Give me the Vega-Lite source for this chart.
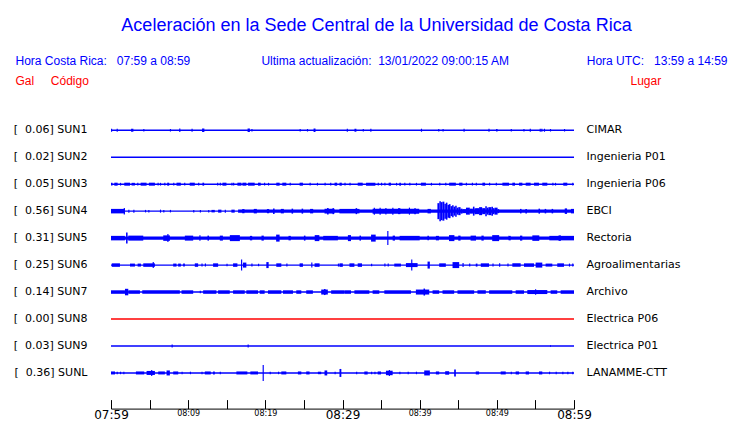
{
 "$schema": "https://vega.github.io/schema/vega-lite/v6.json",
 "width": 463, "height": 314,
 "autosize": "none",
 "padding": {"left": 111, "top": 94.6, "right": 166, "bottom": 14.4},
 "background": "white",
 "title": {"text": "Aceleración en la Sede Central de la Universidad de Costa Rica", "font": "Liberation Sans", "fontSize": 18, "fontWeight": "normal", "color": "#0000ff", "anchor": "middle", "frame": "group", "dx": 34, "offset": 20},
 "config": {"view": {"stroke": null}, "axis": {"grid": false}},
 "datasets": {
  "estaciones": [
   {"s": "SUN1", "t0": 0, "t1": 60, "gal": 0.06, "lugar": "CIMAR", "estado": "activo"},
   {"s": "SUN2", "t0": 0, "t1": 60, "gal": 0.02, "lugar": "Ingenieria P01", "estado": "activo"},
   {"s": "SUN3", "t0": 0, "t1": 60, "gal": 0.05, "lugar": "Ingenieria P06", "estado": "activo"},
   {"s": "SUN4", "t0": 0, "t1": 60, "gal": 0.56, "lugar": "EBCI", "estado": "activo"},
   {"s": "SUN5", "t0": 0, "t1": 60, "gal": 0.31, "lugar": "Rectoria", "estado": "activo"},
   {"s": "SUN6", "t0": 0, "t1": 60, "gal": 0.25, "lugar": "Agroalimentarias", "estado": "activo"},
   {"s": "SUN7", "t0": 0, "t1": 60, "gal": 0.14, "lugar": "Archivo", "estado": "activo"},
   {"s": "SUN8", "t0": 0, "t1": 60, "gal": 0.00, "lugar": "Electrica P06", "estado": "sin datos"},
   {"s": "SUN9", "t0": 0, "t1": 60, "gal": 0.03, "lugar": "Electrica P01", "estado": "activo"},
   {"s": "SUNL", "t0": 0, "t1": 60, "gal": 0.36, "lugar": "LANAMME-CTT", "estado": "activo"}
  ],
  "trazas": [
   {"s":"SUN1","t0":0,"t1":0.15,"a":3},{"s":"SUN1","t0":0.73,"t1":0.88,"a":3},{"s":"SUN1","t0":2.6,"t1":2.9,"a":3},{"s":"SUN1","t0":4.18,"t1":4.33,"a":2.5},{"s":"SUN1","t0":7.63,"t1":7.78,"a":2.5},{"s":"SUN1","t0":8.84,"t1":8.99,"a":3.5},{"s":"SUN1","t0":10.43,"t1":10.58,"a":3},{"s":"SUN1","t0":11.8,"t1":12.1,"a":3.5},{"s":"SUN1","t0":17.7,"t1":18.0,"a":3.5},{"s":"SUN1","t0":18.19,"t1":18.34,"a":2.5},{"s":"SUN1","t0":24.44,"t1":24.59,"a":2.5},{"s":"SUN1","t0":25.39,"t1":25.54,"a":2.5},{"s":"SUN1","t0":26.25,"t1":26.5,"a":3.5},{"s":"SUN1","t0":30.55,"t1":30.7,"a":3},{"s":"SUN1","t0":31.55,"t1":31.8,"a":3},{"s":"SUN1","t0":32.62,"t1":32.77,"a":2.5},{"s":"SUN1","t0":33.6,"t1":33.75,"a":3},{"s":"SUN1","t0":40.16,"t1":40.31,"a":3},{"s":"SUN1","t0":42.4,"t1":42.55,"a":2.5},{"s":"SUN1","t0":42.96,"t1":43.11,"a":2.5},{"s":"SUN1","t0":45.68,"t1":45.83,"a":3},{"s":"SUN1","t0":48.91,"t1":49.06,"a":3},{"s":"SUN1","t0":49.9,"t1":50.1,"a":2.5},{"s":"SUN1","t0":51.8,"t1":51.95,"a":2.5},{"s":"SUN1","t0":53.44,"t1":53.59,"a":2.5},{"s":"SUN1","t0":54.26,"t1":54.41,"a":3},{"s":"SUN1","t0":55.55,"t1":55.7,"a":3},{"s":"SUN1","t0":55.76,"t1":55.91,"a":3},{"s":"SUN1","t0":56.1,"t1":56.25,"a":3},{"s":"SUN1","t0":56.88,"t1":57.03,"a":2.5},{"s":"SUN1","t0":58.7,"t1":58.85,"a":2.5},
   {"s":"SUN3","t0":0,"t1":0.2,"a":2.7},{"s":"SUN3","t0":0.43,"t1":0.86,"a":3},{"s":"SUN3","t0":1.16,"t1":1.31,"a":2.7},{"s":"SUN3","t0":1.72,"t1":2.46,"a":3},{"s":"SUN3","t0":2.67,"t1":3.1,"a":2.7},{"s":"SUN3","t0":3.4,"t1":3.55,"a":2.7},{"s":"SUN3","t0":3.84,"t1":4.61,"a":3},{"s":"SUN3","t0":4.91,"t1":5.69,"a":3},{"s":"SUN3","t0":6.03,"t1":6.18,"a":2.7},{"s":"SUN3","t0":6.34,"t1":6.49,"a":2.7},{"s":"SUN3","t0":6.9,"t1":7.05,"a":2.7},{"s":"SUN3","t0":7.28,"t1":7.54,"a":3},{"s":"SUN3","t0":8.06,"t1":8.21,"a":2.7},{"s":"SUN3","t0":8.49,"t1":9.05,"a":3},{"s":"SUN3","t0":9.48,"t1":9.63,"a":2.7},{"s":"SUN3","t0":10.2,"t1":10.86,"a":3},{"s":"SUN3","t0":11.29,"t1":11.44,"a":2.7},{"s":"SUN3","t0":11.85,"t1":12.07,"a":3},{"s":"SUN3","t0":13.75,"t1":13.9,"a":2.7},{"s":"SUN3","t0":14.09,"t1":14.24,"a":2.7},{"s":"SUN3","t0":14.44,"t1":14.96,"a":3},{"s":"SUN3","t0":15.6,"t1":15.75,"a":2.7},{"s":"SUN3","t0":15.82,"t1":15.97,"a":2.7},{"s":"SUN3","t0":16.38,"t1":16.9,"a":3},{"s":"SUN3","t0":17.03,"t1":17.54,"a":3},{"s":"SUN3","t0":17.76,"t1":18.62,"a":3},{"s":"SUN3","t0":19.05,"t1":19.4,"a":3},{"s":"SUN3","t0":19.83,"t1":19.98,"a":2.7},{"s":"SUN3","t0":20.34,"t1":20.49,"a":2.7},{"s":"SUN3","t0":21.42,"t1":21.85,"a":3},{"s":"SUN3","t0":22.2,"t1":22.72,"a":3},{"s":"SUN3","t0":23.15,"t1":23.3,"a":2.7},{"s":"SUN3","t0":24.44,"t1":24.87,"a":3},{"s":"SUN3","t0":25.73,"t1":25.88,"a":2.7},{"s":"SUN3","t0":26.68,"t1":26.83,"a":2.7},{"s":"SUN3","t0":27.67,"t1":27.82,"a":2.7},{"s":"SUN3","t0":28.4,"t1":28.55,"a":2.7},{"s":"SUN3","t0":28.97,"t1":29.31,"a":3},{"s":"SUN3","t0":29.61,"t1":29.91,"a":3},{"s":"SUN3","t0":30.25,"t1":30.4,"a":2.7},{"s":"SUN3","t0":30.9,"t1":31.05,"a":2.7},{"s":"SUN3","t0":31.97,"t1":32.62,"a":3},{"s":"SUN3","t0":33.05,"t1":34.26,"a":3},{"s":"SUN3","t0":34.56,"t1":34.71,"a":2.7},{"s":"SUN3","t0":34.99,"t1":35.14,"a":2.7},{"s":"SUN3","t0":35.42,"t1":35.57,"a":2.7},{"s":"SUN3","t0":35.98,"t1":36.28,"a":3},{"s":"SUN3","t0":36.93,"t1":37.08,"a":2.7},{"s":"SUN3","t0":37.36,"t1":37.57,"a":3},{"s":"SUN3","t0":38.0,"t1":38.15,"a":2.7},{"s":"SUN3","t0":38.65,"t1":38.8,"a":2.7},{"s":"SUN3","t0":39.51,"t1":39.66,"a":2.7},{"s":"SUN3","t0":40.16,"t1":40.81,"a":3},{"s":"SUN3","t0":41.45,"t1":41.6,"a":2.7},{"s":"SUN3","t0":42.53,"t1":42.68,"a":2.7},{"s":"SUN3","t0":43.31,"t1":43.46,"a":2.7},{"s":"SUN3","t0":43.82,"t1":44.69,"a":3},{"s":"SUN3","t0":45.12,"t1":45.55,"a":3},{"s":"SUN3","t0":45.98,"t1":46.13,"a":2.7},{"s":"SUN3","t0":46.76,"t1":46.91,"a":2.7},{"s":"SUN3","t0":47.27,"t1":47.42,"a":2.7},{"s":"SUN3","t0":48.13,"t1":48.48,"a":3},{"s":"SUN3","t0":48.99,"t1":49.14,"a":2.7},{"s":"SUN3","t0":49.86,"t1":50.01,"a":2.7},{"s":"SUN3","t0":50.72,"t1":51.58,"a":3},{"s":"SUN3","t0":52.01,"t1":52.36,"a":3},{"s":"SUN3","t0":52.88,"t1":53.31,"a":3},{"s":"SUN3","t0":53.74,"t1":54.38,"a":3},{"s":"SUN3","t0":54.82,"t1":55.46,"a":3},{"s":"SUN3","t0":55.89,"t1":56.54,"a":3},{"s":"SUN3","t0":57.19,"t1":57.34,"a":2.7},{"s":"SUN3","t0":57.53,"t1":57.68,"a":2.7},{"s":"SUN3","t0":58.61,"t1":59.13,"a":3},{"s":"SUN3","t0":59.77,"t1":59.92,"a":2.7},
   {"s":"SUN4","t0":0,"t1":1.81,"a":4.5},{"s":"SUN4","t0":1.65,"t1":1.8,"a":6.5},{"s":"SUN4","t0":2.24,"t1":2.39,"a":3},{"s":"SUN4","t0":2.89,"t1":3.04,"a":3},{"s":"SUN4","t0":4.4,"t1":4.55,"a":2.5},{"s":"SUN4","t0":4.83,"t1":4.98,"a":2.5},{"s":"SUN4","t0":6.34,"t1":6.49,"a":3},{"s":"SUN4","t0":6.77,"t1":6.92,"a":2.5},{"s":"SUN4","t0":7.63,"t1":7.78,"a":2.5},{"s":"SUN4","t0":10.65,"t1":10.8,"a":2.5},{"s":"SUN4","t0":11.51,"t1":11.66,"a":2.5},{"s":"SUN4","t0":12.59,"t1":12.74,"a":2.5},{"s":"SUN4","t0":13.02,"t1":13.45,"a":2.5},{"s":"SUN4","t0":13.88,"t1":14.31,"a":3},{"s":"SUN4","t0":14.74,"t1":14.89,"a":3},{"s":"SUN4","t0":15.6,"t1":16.03,"a":3},
   {"s":"SUN4","t0":16.47,"t1":60,"a":3.1},{"s":"SUN4","t0":17.0,"t1":17.3,"a":4.2},{"s":"SUN4","t0":18.5,"t1":18.9,"a":4.5},{"s":"SUN4","t0":20.2,"t1":20.5,"a":4.2},{"s":"SUN4","t0":21.0,"t1":21.2,"a":5.5},{"s":"SUN4","t0":22.0,"t1":22.4,"a":4.5},{"s":"SUN4","t0":23.4,"t1":23.6,"a":5},{"s":"SUN4","t0":24.7,"t1":24.9,"a":5},{"s":"SUN4","t0":25.8,"t1":26.2,"a":4.5},{"s":"SUN4","t0":27.67,"t1":28.97,"a":4.8},{"s":"SUN4","t0":28.0,"t1":28.2,"a":6.5},{"s":"SUN4","t0":28.7,"t1":28.9,"a":6},
   {"s":"SUN4","t0":29.6,"t1":32.2,"a":4.5},{"s":"SUN4","t0":31.7,"t1":31.9,"a":6},{"s":"SUN4","t0":33.9,"t1":39.94,"a":5},{"s":"SUN4","t0":34.05,"t1":34.2,"a":7},{"s":"SUN4","t0":34.8,"t1":34.95,"a":7},{"s":"SUN4","t0":35.55,"t1":35.7,"a":6.5},{"s":"SUN4","t0":36.45,"t1":36.6,"a":7},{"s":"SUN4","t0":37.2,"t1":37.5,"a":6},{"s":"SUN4","t0":38.6,"t1":38.75,"a":7},{"s":"SUN4","t0":39.3,"t1":39.5,"a":6},{"s":"SUN4","t0":41.02,"t1":41.45,"a":4.5},
   {"s":"SUN4","t0":42.3,"t1":42.55,"a":16},{"s":"SUN4","t0":42.55,"t1":42.75,"a":20},{"s":"SUN4","t0":42.75,"t1":42.95,"a":18},{"s":"SUN4","t0":42.95,"t1":43.2,"a":19},{"s":"SUN4","t0":43.2,"t1":43.4,"a":15},{"s":"SUN4","t0":43.4,"t1":43.6,"a":17},{"s":"SUN4","t0":43.6,"t1":43.8,"a":13},{"s":"SUN4","t0":43.8,"t1":44.0,"a":14},{"s":"SUN4","t0":44.0,"t1":44.2,"a":10},{"s":"SUN4","t0":44.2,"t1":44.4,"a":12},{"s":"SUN4","t0":44.4,"t1":44.6,"a":9},{"s":"SUN4","t0":44.6,"t1":44.8,"a":11},{"s":"SUN4","t0":44.8,"t1":45.0,"a":7},{"s":"SUN4","t0":45.0,"t1":45.3,"a":8},{"s":"SUN4","t0":45.3,"t1":45.55,"a":5},
   {"s":"SUN4","t0":45.55,"t1":46.0,"a":4},{"s":"SUN4","t0":46.0,"t1":46.5,"a":7},{"s":"SUN4","t0":46.5,"t1":46.9,"a":5},{"s":"SUN4","t0":46.9,"t1":47.1,"a":9},{"s":"SUN4","t0":47.1,"t1":47.3,"a":6},{"s":"SUN4","t0":47.3,"t1":47.7,"a":6},{"s":"SUN4","t0":47.7,"t1":48.1,"a":8},{"s":"SUN4","t0":48.1,"t1":48.5,"a":6},{"s":"SUN4","t0":48.5,"t1":48.7,"a":10},{"s":"SUN4","t0":48.7,"t1":48.9,"a":7},{"s":"SUN4","t0":48.9,"t1":49.3,"a":8},{"s":"SUN4","t0":49.3,"t1":49.5,"a":9},{"s":"SUN4","t0":49.5,"t1":49.7,"a":6},{"s":"SUN4","t0":49.7,"t1":50.1,"a":7},{"s":"SUN4","t0":50.1,"t1":50.3,"a":4},
   {"s":"SUN4","t0":53.0,"t1":53.2,"a":4.5},{"s":"SUN4","t0":53.7,"t1":53.9,"a":4.5},{"s":"SUN4","t0":55.4,"t1":55.6,"a":5},{"s":"SUN4","t0":56.2,"t1":56.4,"a":4.5},{"s":"SUN4","t0":57.1,"t1":57.3,"a":4.5},{"s":"SUN4","t0":58.8,"t1":59.1,"a":5.5},{"s":"SUN4","t0":59.6,"t1":60,"a":4.5},
   {"s":"SUN5","t0":0,"t1":60,"a":3.4},{"s":"SUN5","t0":0,"t1":1.8,"a":4.5},{"s":"SUN5","t0":1.95,"t1":2.15,"a":11},{"s":"SUN5","t0":2.24,"t1":4.18,"a":5},{"s":"SUN5","t0":6.77,"t1":7.63,"a":5.5},{"s":"SUN5","t0":7.3,"t1":7.45,"a":8},{"s":"SUN5","t0":9.57,"t1":10.65,"a":5},{"s":"SUN5","t0":11.45,"t1":11.6,"a":5.5},{"s":"SUN5","t0":12.5,"t1":12.7,"a":5},{"s":"SUN5","t0":14.1,"t1":14.5,"a":5},{"s":"SUN5","t0":15.4,"t1":16.7,"a":6},{"s":"SUN5","t0":18.0,"t1":18.3,"a":4.5},{"s":"SUN5","t0":19.5,"t1":19.8,"a":5},{"s":"SUN5","t0":21.4,"t1":21.85,"a":7},{"s":"SUN5","t0":23.0,"t1":23.3,"a":4.5},{"s":"SUN5","t0":25.0,"t1":25.2,"a":5},{"s":"SUN5","t0":26.4,"t1":27.0,"a":6},{"s":"SUN5","t0":27.5,"t1":29.4,"a":4.5},{"s":"SUN5","t0":30.7,"t1":31.1,"a":6},{"s":"SUN5","t0":32.2,"t1":32.4,"a":5},{"s":"SUN5","t0":33.7,"t1":34.3,"a":7},{"s":"SUN5","t0":35.8,"t1":35.95,"a":14},{"s":"SUN5","t0":36.5,"t1":36.8,"a":5},{"s":"SUN5","t0":37.4,"t1":40.0,"a":4.5},{"s":"SUN5","t0":41.0,"t1":41.2,"a":4.5},{"s":"SUN5","t0":42.1,"t1":42.5,"a":4.5},{"s":"SUN5","t0":43.8,"t1":44.5,"a":6},{"s":"SUN5","t0":45.0,"t1":45.3,"a":5},{"s":"SUN5","t0":46.6,"t1":47.3,"a":5},{"s":"SUN5","t0":48.0,"t1":48.3,"a":5},{"s":"SUN5","t0":49.4,"t1":50.3,"a":6},{"s":"SUN5","t0":51.5,"t1":51.8,"a":4.5},{"s":"SUN5","t0":53.0,"t1":53.3,"a":5},{"s":"SUN5","t0":54.6,"t1":55.5,"a":5.5},{"s":"SUN5","t0":56.8,"t1":60,"a":4.5},{"s":"SUN5","t0":58.0,"t1":58.3,"a":5.5},
   {"s":"SUN6","t0":0.1,"t1":1.16,"a":3.5},{"s":"SUN6","t0":2.46,"t1":3.1,"a":3},{"s":"SUN6","t0":3.45,"t1":3.88,"a":3},{"s":"SUN6","t0":4.18,"t1":5.69,"a":3.5},{"s":"SUN6","t0":5.4,"t1":5.55,"a":6},{"s":"SUN6","t0":8.06,"t1":8.49,"a":3},{"s":"SUN6","t0":8.7,"t1":9.05,"a":3},{"s":"SUN6","t0":9.35,"t1":9.57,"a":3},{"s":"SUN6","t0":10.86,"t1":11.29,"a":3.5},{"s":"SUN6","t0":11.72,"t1":11.87,"a":3},{"s":"SUN6","t0":12.16,"t1":12.31,"a":3},{"s":"SUN6","t0":13.23,"t1":13.88,"a":3.5},{"s":"SUN6","t0":14.96,"t1":15.11,"a":2.5},{"s":"SUN6","t0":15.82,"t1":16.38,"a":3.5},{"s":"SUN6","t0":16.85,"t1":17.0,"a":11},{"s":"SUN6","t0":17.1,"t1":17.54,"a":5},{"s":"SUN6","t0":18.19,"t1":18.34,"a":3},{"s":"SUN6","t0":19.05,"t1":19.2,"a":2.5},{"s":"SUN6","t0":20.13,"t1":20.43,"a":6},{"s":"SUN6","t0":21.42,"t1":22.07,"a":3.5},{"s":"SUN6","t0":22.72,"t1":22.87,"a":3},{"s":"SUN6","t0":24.44,"t1":24.87,"a":3.5},{"s":"SUN6","t0":25.95,"t1":26.1,"a":5},{"s":"SUN6","t0":26.38,"t1":27.03,"a":3.5},{"s":"SUN6","t0":29.4,"t1":29.55,"a":3},{"s":"SUN6","t0":29.6,"t1":30.04,"a":3.5},
   {"s":"SUN6","t0":30.9,"t1":31.54,"a":3.5},{"s":"SUN6","t0":31.97,"t1":32.53,"a":3.5},{"s":"SUN6","t0":33.7,"t1":33.85,"a":2.5},{"s":"SUN6","t0":35.42,"t1":35.57,"a":3},{"s":"SUN6","t0":35.85,"t1":36.0,"a":3},{"s":"SUN6","t0":36.71,"t1":37.57,"a":3},{"s":"SUN6","t0":38.22,"t1":39.73,"a":4},{"s":"SUN6","t0":38.9,"t1":39.05,"a":11},{"s":"SUN6","t0":41.02,"t1":41.32,"a":7},{"s":"SUN6","t0":42.53,"t1":43.39,"a":3.5},{"s":"SUN6","t0":44.26,"t1":45.12,"a":6},{"s":"SUN6","t0":45.55,"t1":45.7,"a":4},{"s":"SUN6","t0":46.41,"t1":46.56,"a":3},{"s":"SUN6","t0":47.27,"t1":47.49,"a":3},{"s":"SUN6","t0":47.92,"t1":48.99,"a":3.5},{"s":"SUN6","t0":49.43,"t1":49.58,"a":3},{"s":"SUN6","t0":50.29,"t1":50.44,"a":3.5},{"s":"SUN6","t0":51.37,"t1":51.52,"a":3},{"s":"SUN6","t0":52.01,"t1":53.09,"a":3.5},{"s":"SUN6","t0":53.52,"t1":54.82,"a":3.5},{"s":"SUN6","t0":55.03,"t1":55.89,"a":5},{"s":"SUN6","t0":56.32,"t1":57.19,"a":3},{"s":"SUN6","t0":57.83,"t1":58.7,"a":3.5},{"s":"SUN6","t0":59.34,"t1":59.49,"a":3},{"s":"SUN6","t0":59.77,"t1":59.92,"a":3},
   {"s":"SUN7","t0":0,"t1":1.81,"a":3.5},{"s":"SUN7","t0":1.81,"t1":2.24,"a":6.5},{"s":"SUN7","t0":2.24,"t1":3.75,"a":3.5},{"s":"SUN7","t0":4.05,"t1":8.92,"a":3.5},{"s":"SUN7","t0":9.14,"t1":10.65,"a":3.5},{"s":"SUN7","t0":11.5,"t1":11.65,"a":2.5},{"s":"SUN7","t0":11.94,"t1":13.66,"a":3.5},{"s":"SUN7","t0":13.88,"t1":15.39,"a":3.5},{"s":"SUN7","t0":15.82,"t1":17.33,"a":3.5},{"s":"SUN7","t0":17.54,"t1":19.05,"a":3.5},{"s":"SUN7","t0":19.27,"t1":19.91,"a":3.5},{"s":"SUN7","t0":20.34,"t1":22.07,"a":3.5},{"s":"SUN7","t0":22.29,"t1":23.58,"a":3.5},{"s":"SUN7","t0":24.01,"t1":24.66,"a":3.5},{"s":"SUN7","t0":25.3,"t1":26.16,"a":3.5},{"s":"SUN7","t0":27.24,"t1":28.1,"a":5},{"s":"SUN7","t0":27.6,"t1":27.8,"a":6},{"s":"SUN7","t0":28.53,"t1":30.26,"a":3.5},
   {"s":"SUN7","t0":30.26,"t1":31.1,"a":3.5},{"s":"SUN7","t0":31.54,"t1":33.48,"a":3.5},{"s":"SUN7","t0":33.9,"t1":34.77,"a":3.5},{"s":"SUN7","t0":35.42,"t1":38.87,"a":3.5},{"s":"SUN7","t0":39.51,"t1":41.24,"a":5},{"s":"SUN7","t0":40.5,"t1":40.7,"a":7},{"s":"SUN7","t0":41.67,"t1":42.53,"a":3.5},{"s":"SUN7","t0":42.96,"t1":44.47,"a":3.5},{"s":"SUN7","t0":44.9,"t1":47.06,"a":3.5},{"s":"SUN7","t0":47.49,"t1":48.57,"a":3.5},{"s":"SUN7","t0":49.0,"t1":52.0,"a":3.5},{"s":"SUN7","t0":52.44,"t1":53.52,"a":3.5},{"s":"SUN7","t0":53.95,"t1":56.54,"a":4},{"s":"SUN7","t0":54.95,"t1":55.1,"a":5.5},{"s":"SUN7","t0":56.97,"t1":57.83,"a":3.5},{"s":"SUN7","t0":58.27,"t1":60,"a":3.5},
   {"s":"SUN9","t0":7.85,"t1":8.0,"a":3},{"s":"SUN9","t0":17.7,"t1":17.85,"a":3},{"s":"SUN9","t0":56.9,"t1":57.0,"a":2.2},
   {"s":"SUNL","t0":0,"t1":0.52,"a":3},{"s":"SUNL","t0":0.73,"t1":0.88,"a":2.5},{"s":"SUNL","t0":1.16,"t1":1.31,"a":2.5},{"s":"SUNL","t0":1.59,"t1":1.74,"a":2.5},{"s":"SUNL","t0":3.23,"t1":4.31,"a":3},{"s":"SUNL","t0":4.61,"t1":5.69,"a":4},{"s":"SUNL","t0":5.2,"t1":5.35,"a":6},{"s":"SUNL","t0":6.12,"t1":6.98,"a":3},{"s":"SUNL","t0":7.2,"t1":7.63,"a":5},{"s":"SUNL","t0":8.06,"t1":8.71,"a":3},{"s":"SUNL","t0":9.14,"t1":9.29,"a":2.5},{"s":"SUNL","t0":10.22,"t1":10.37,"a":2.5},{"s":"SUNL","t0":11.72,"t1":11.87,"a":2.5},{"s":"SUNL","t0":12.16,"t1":12.93,"a":3},{"s":"SUNL","t0":13.23,"t1":13.45,"a":3},{"s":"SUNL","t0":14.09,"t1":14.24,"a":2.5},{"s":"SUNL","t0":16.25,"t1":17.67,"a":3},{"s":"SUNL","t0":18.06,"t1":19.05,"a":3},{"s":"SUNL","t0":19.65,"t1":19.8,"a":16},{"s":"SUNL","t0":20.56,"t1":20.71,"a":2.5},{"s":"SUNL","t0":21.64,"t1":21.79,"a":2.5},{"s":"SUNL","t0":22.07,"t1":22.72,"a":3},{"s":"SUNL","t0":24.22,"t1":24.66,"a":3},{"s":"SUNL","t0":25.3,"t1":25.73,"a":3},{"s":"SUNL","t0":26.81,"t1":27.24,"a":2.5},{"s":"SUNL","t0":27.67,"t1":28.02,"a":5},{"s":"SUNL","t0":28.97,"t1":29.12,"a":2.5},{"s":"SUNL","t0":29.61,"t1":29.85,"a":8},
   {"s":"SUNL","t0":31.76,"t1":31.91,"a":2.5},{"s":"SUNL","t0":32.83,"t1":33.26,"a":3},{"s":"SUNL","t0":33.7,"t1":33.85,"a":2.5},{"s":"SUNL","t0":34.13,"t1":34.28,"a":2.5},{"s":"SUNL","t0":34.56,"t1":34.99,"a":3},{"s":"SUNL","t0":35.63,"t1":36.5,"a":4.5},{"s":"SUNL","t0":36.0,"t1":36.15,"a":6},{"s":"SUNL","t0":37.36,"t1":37.51,"a":2.5},{"s":"SUNL","t0":38.44,"t1":38.59,"a":2.5},{"s":"SUNL","t0":39.51,"t1":39.66,"a":2.5},{"s":"SUNL","t0":40.59,"t1":41.32,"a":5},{"s":"SUNL","t0":42.1,"t1":42.53,"a":3},{"s":"SUNL","t0":43.31,"t1":43.82,"a":3.5},{"s":"SUNL","t0":44.47,"t1":44.69,"a":7},{"s":"SUNL","t0":47.27,"t1":47.7,"a":3},{"s":"SUNL","t0":50.5,"t1":51.15,"a":3},{"s":"SUNL","t0":51.8,"t1":51.95,"a":2.5},{"s":"SUNL","t0":52.44,"t1":52.88,"a":3},{"s":"SUNL","t0":53.74,"t1":54.17,"a":3},{"s":"SUNL","t0":55.46,"t1":55.89,"a":3},{"s":"SUNL","t0":56.76,"t1":56.91,"a":2.5},{"s":"SUNL","t0":57.62,"t1":57.77,"a":2.5},{"s":"SUNL","t0":58.48,"t1":58.63,"a":2.5},{"s":"SUNL","t0":59.13,"t1":59.28,"a":2.5},{"s":"SUNL","t0":59.77,"t1":59.92,"a":2.5}
  ]
 },
 "resolve": {"axis": {"x": "independent", "y": "independent"}},
 "layer": [
  {
   "data": {"name": "estaciones"},
   "mark": {"type": "rule", "strokeWidth": 1.4},
   "encoding": {
    "x": {"field": "t0", "type": "quantitative", "scale": {"domain": [0, 60], "nice": false, "zero": false},
     "axis": {"orient": "bottom", "title": null, "values": [0,5,10,15,20,25,30,35,40,45,50,55,60],
      "labelExpr": "['07:59','','08:09','','08:19','','08:29','','08:39','','08:49','','08:59'][round(datum.value/5)]",
      "labelFont": "DejaVu Sans", "labelFontSize": {"condition": {"test": "datum.value % 30 === 0", "value": 12}, "value": 8},
      "labelColor": "black", "labelPadding": 10, "labelFlush": false, "labelOverlap": false,
      "domain": true, "domainColor": "black", "domainWidth": 1, "ticks": true, "tickSize": -9, "tickColor": "black", "tickWidth": 1, "grid": false}},
    "x2": {"field": "t1"},
    "y": {"field": "s", "type": "nominal",
     "scale": {"type": "band", "domain": ["SUN1","SUN2","SUN3","SUN4","SUN5","SUN6","SUN7","SUN8","SUN9","SUNL"], "paddingInner": 0, "paddingOuter": 0.822},
     "axis": {"orient": "left", "title": "Gal\u00a0\u00a0\u00a0\u00a0\u00a0Código", "titleAngle": 0, "titleAlign": "left", "titleBaseline": "alphabetic", "titleX": -96, "titleY": -10.5, "titleFont": "Liberation Sans", "titleFontSize": 12, "titleFontWeight": "normal", "titleColor": "#ff0000",
      "labelExpr": "['[\u00a0\u00a00.06] SUN1','[\u00a0\u00a00.02] SUN2','[\u00a0\u00a00.05] SUN3','[\u00a0\u00a00.56] SUN4','[\u00a0\u00a00.31] SUN5','[\u00a0\u00a00.25] SUN6','[\u00a0\u00a00.14] SUN7','[\u00a0\u00a00.00] SUN8','[\u00a0\u00a00.03] SUN9','[\u00a0\u00a00.36] SUNL'][indexof(['SUN1','SUN2','SUN3','SUN4','SUN5','SUN6','SUN7','SUN8','SUN9','SUNL'], datum.value)]",
      "labelFont": "DejaVu Sans", "labelFontSize": 11, "labelColor": "black", "labelPadding": 24, "labelBaseline": "middle", "ticks": false, "domain": false, "grid": false}},
    "color": {"field": "estado", "type": "nominal", "scale": {"domain": ["activo", "sin datos"], "range": ["#0000ff", "#ff0000"]}, "legend": null}
   }
  },
  {
   "data": {"name": "trazas"},
   "mark": {"type": "bar", "orient": "horizontal", "color": "#0000ff"},
   "encoding": {
    "x": {"field": "t0", "type": "quantitative", "scale": {"domain": [0, 60], "nice": false, "zero": false},
     "axis": {"orient": "top", "title": null, "values": [0, 19.43, 60],
      "labelExpr": "datum.value < 1 ? 'Hora Costa Rica:\u00a0\u00a0\u00a007:59 a 08:59' : (datum.value < 59 ? 'Ultima actualización:\u00a0\u00a013/01/2022 09:00:15 AM' : 'Hora UTC:\u00a0\u00a0\u00a013:59 a 14:59')",
      "labelAlign": {"condition": {"test": "datum.value > 59", "value": "right"}, "value": "left"},
      "labelOffset": {"condition": [{"test": "datum.value < 1", "value": -96}, {"test": "datum.value > 59", "value": 153}], "value": 0},
      "labelFont": "Liberation Sans", "labelFontSize": 12, "labelColor": "#0000ff", "labelPadding": 30, "labelBaseline": "alphabetic", "labelLimit": 0,
      "labelFlush": false, "labelOverlap": false, "labelBound": false, "domain": false, "ticks": false, "grid": false}},
    "x2": {"field": "t1"},
    "y": {"field": "s", "type": "nominal",
     "scale": {"type": "band", "domain": ["SUN1","SUN2","SUN3","SUN4","SUN5","SUN6","SUN7","SUN8","SUN9","SUNL"], "paddingInner": 0, "paddingOuter": 0.822},
     "axis": {"orient": "right", "title": "Lugar", "titleAngle": 0, "titleAlign": "left", "titleBaseline": "alphabetic", "titleX": 56, "titleY": -10.5, "titleFont": "Liberation Sans", "titleFontSize": 12, "titleFontWeight": "normal", "titleColor": "#ff0000",
      "labelExpr": "['CIMAR','Ingenieria P01','Ingenieria P06','EBCI','Rectoria','Agroalimentarias','Archivo','Electrica P06','Electrica P01','LANAMME-CTT'][indexof(['SUN1','SUN2','SUN3','SUN4','SUN5','SUN6','SUN7','SUN8','SUN9','SUNL'], datum.value)]",
      "labelFont": "DejaVu Sans", "labelFontSize": 11, "labelColor": "black", "labelPadding": 12, "labelBaseline": "middle", "ticks": false, "domain": false, "grid": false}},
    "size": {"field": "a", "type": "quantitative", "scale": {"domain": [0, 20], "range": [0, 20]}, "legend": null}
   }
  }
 ]
}
